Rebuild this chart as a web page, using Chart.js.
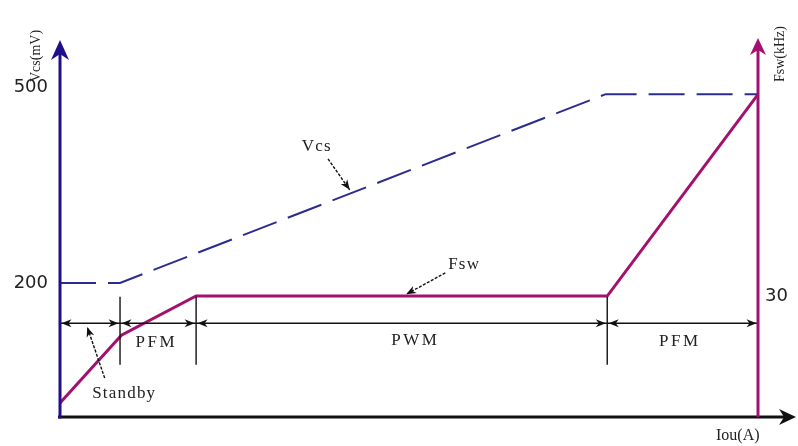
<!DOCTYPE html>
<html><head><meta charset="utf-8">
<script src="https://cdn.jsdelivr.net/npm/chart.js@4"></script>
<style>html,body{margin:0;padding:0;background:#fff;}canvas{display:block;}</style>
</head><body>
<canvas id="c" width="798" height="446"></canvas>
<script>
// ---- data ----
const vcsX = [0, 8.6, 78.2, 100];
const vcsY = [200, 200, 500, 500];           // mV
const fswX = [0, 8.8, 19.5, 78.4, 100];
const fswY = [3.5, 20.3, 30, 30, 80];        // kHz
const vcsTicks = [200, 500];
const fswTicks = [30];
const bounds = [0, 8.6, 19.5, 78.4, 100];    // region boundaries on Iout axis
const regionLabels = [
  {text: 'PFM', x: 13.8, y: 106},
  {text: 'PWM', x: 50.9, y: 109},
  {text: 'PFM', x: 88.8, y: 107}
];
const notes = [
  {text: 'Vcs', x: 36.8, y: 416, fx: 38.4, fy: 397, tx: 41.5, ty: 348},
  {text: 'Fsw', x: 57.9, y: 230, fx: 55.2, fy: 216, tx: 49.6, ty: 182},
  {text: 'Standby', x: 9.2, y: 23.5, fx: 6.4, fy: 49, tx: 3.9, ty: 130}
];
const dimY = 136, tickTop = 178, tickBot = 70;

const NAVY = '#1f0f8c', DASH = '#2c2c90', MAG = '#a3106f', BLK = '#111';

function arrowHead(ctx, x, y, ang, len, half, color) {
  ctx.save();
  ctx.translate(x, y); ctx.rotate(ang);
  ctx.fillStyle = color;
  ctx.beginPath();
  ctx.moveTo(0, 0);
  ctx.lineTo(-len, -half);
  ctx.lineTo(-len * 0.7, 0);
  ctx.lineTo(-len, half);
  ctx.closePath();
  ctx.fill();
  ctx.restore();
}

const deco = {
  id: 'deco',
  afterDatasetsDraw(chart) {
    const ctx = chart.ctx, xs = chart.scales.x, ys = chart.scales.y, y2 = chart.scales.y2;
    const X = v => xs.getPixelForValue(v), Y = v => ys.getPixelForValue(v);
    const a = chart.chartArea;
    const x0 = X(0), yb = Y(ys.min), xr = X(100);
    ctx.save();
    // dimension line
    ctx.strokeStyle = BLK; ctx.lineWidth = 1.4;
    ctx.beginPath(); ctx.moveTo(x0, Y(dimY)); ctx.lineTo(xr, Y(dimY)); ctx.stroke();
    for (let i = 1; i < bounds.length - 1; i++) {
      ctx.beginPath(); ctx.moveTo(X(bounds[i]), Y(tickTop)); ctx.lineTo(X(bounds[i]), Y(tickBot)); ctx.stroke();
    }
    for (let i = 0; i < bounds.length - 1; i++) {
      const l = X(bounds[i]) + 1.5, r = X(bounds[i + 1]) - 1.5, yy = Y(dimY);
      arrowHead(ctx, l, yy, Math.PI, 10, 4, BLK);
      arrowHead(ctx, r, yy, 0, 10, 4, BLK);
    }
    // labels
    ctx.fillStyle = '#222';
    ctx.font = '17px "Liberation Serif"';
    ctx.letterSpacing = '2.5px';
    ctx.textAlign = 'center'; ctx.textBaseline = 'middle';
    regionLabels.forEach(r => ctx.fillText(r.text, X(r.x), Y(r.y)));
    ctx.letterSpacing = '1.2px';
    notes.forEach(n => {
      ctx.fillText(n.text, X(n.x), Y(n.y));
      ctx.save();
      ctx.strokeStyle = BLK; ctx.lineWidth = 1.4; ctx.setLineDash([3, 1.5]);
      const fx = X(n.fx), fy = Y(n.fy), tx = X(n.tx), ty = Y(n.ty);
      ctx.beginPath(); ctx.moveTo(fx, fy); ctx.lineTo(tx, ty); ctx.stroke();
      ctx.restore();
      arrowHead(ctx, tx, ty, Math.atan2(ty - fy, tx - fx), 10, 4, BLK);
    });
    ctx.letterSpacing = '0px';
    // axes
    ctx.lineWidth = 3;
    ctx.strokeStyle = BLK;
    ctx.beginPath(); ctx.moveTo(x0 - 2, yb); ctx.lineTo(a.right - 10, yb); ctx.stroke();
    arrowHead(ctx, a.right + 1, yb, 0, 17, 8, BLK);
    ctx.strokeStyle = NAVY;
    ctx.beginPath(); ctx.moveTo(x0, yb + 1.5); ctx.lineTo(x0, a.top + 10); ctx.stroke();
    arrowHead(ctx, x0, a.top, -Math.PI / 2, 20, 9, NAVY);
    ctx.strokeStyle = MAG;
    ctx.beginPath(); ctx.moveTo(xr, yb); ctx.lineTo(xr, y2.getPixelForValue(y2.max) + 8); ctx.stroke();
    arrowHead(ctx, xr, y2.getPixelForValue(y2.max) - 2, -Math.PI / 2, 17, 8, MAG);
    // tick labels
    ctx.fillStyle = '#222';
    ctx.font = '18px "DejaVu Sans"';
    ctx.textAlign = 'right'; ctx.textBaseline = 'middle';
    vcsTicks.forEach(t => ctx.fillText(String(t), x0 - 12, Y(t) - (t === 500 ? 7 : 0)));
    ctx.textAlign = 'left';
    fswTicks.forEach(t => ctx.fillText(String(t), xr + 7, y2.getPixelForValue(t)));
    // axis titles
    ctx.font = '14px "Liberation Serif"';
    ctx.textAlign = 'center';
    ctx.save(); ctx.translate(x0 - 24, a.top + 16); ctx.rotate(-Math.PI / 2); ctx.fillText('Vcs(mV)', 0, 0); ctx.restore();
    ctx.save(); ctx.translate(xr + 22, a.top + 14); ctx.rotate(-Math.PI / 2); ctx.fillText('Fsw(kHz)', 0, 0); ctx.restore();
    ctx.font = '16px "Liberation Serif"';
    ctx.textBaseline = 'top';
    ctx.fillText('Iou(A)', X(97.1), yb + 11);
    ctx.restore();
  }
};

new Chart(document.getElementById('c'), {
  type: 'line',
  data: {
    datasets: [
      {label: 'Vcs', data: vcsX.map((x, i) => ({x, y: vcsY[i]})), yAxisID: 'y',
       borderColor: DASH, borderWidth: 2, borderDash: [36, 12], pointRadius: 0, tension: 0},
      {label: 'Fsw', data: fswX.map((x, i) => ({x, y: fswY[i]})), yAxisID: 'y2',
       borderColor: MAG, borderWidth: 3, pointRadius: 0, tension: 0}
    ]
  },
  options: {
    responsive: false, animation: false, devicePixelRatio: 1,
    layout: {padding: {left: 60, right: 3, top: 40, bottom: 29}},
    plugins: {legend: {display: false}, tooltip: {enabled: false}},
    scales: {
      x: {type: 'linear', min: 0, max: 105.3, display: false},
      y: {type: 'linear', min: -13, max: 586, display: false},
      y2: {type: 'linear', min: 0, max: 93.5, display: false, position: 'right'}
    }
  },
  plugins: [deco]
});
</script>
</body></html>
